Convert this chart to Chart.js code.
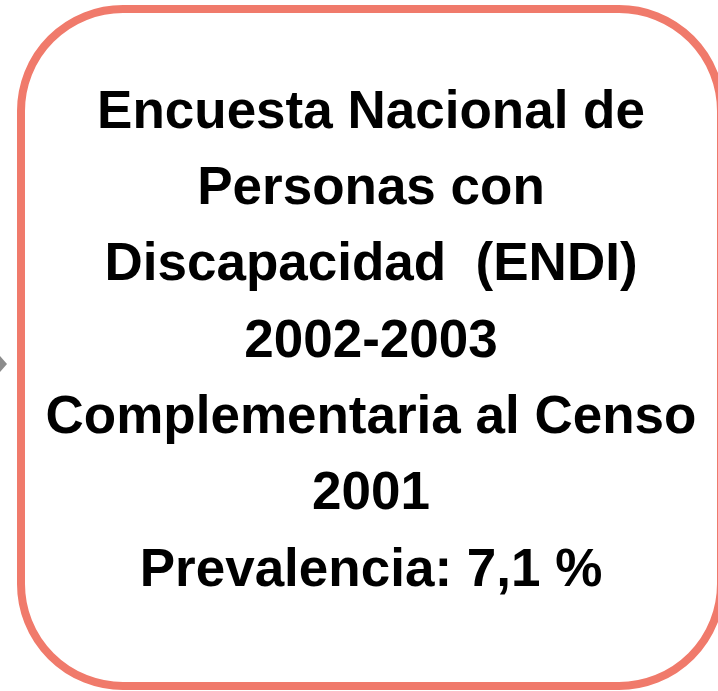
<!DOCTYPE html>
<html>
<head>
<meta charset="utf-8">
<script src="https://cdn.jsdelivr.net/npm/chart.js@4/dist/chart.umd.min.js"></script>
<style>
  html, body { margin: 0; padding: 0; background: #fff; }
  #wrap { width: 718px; height: 691px; position: relative; }
</style>
</head>
<body>
<div id="wrap"><canvas id="c"></canvas></div>
<script>
// Text shown inside the box, one entry per line
const titleLines = [
    'Encuesta Nacional de',
    'Personas con',
    'Discapacidad  (ENDI)',
    '2002-2003',
    'Complementaria al Censo',
    '2001',
    'Prevalencia: 7,1 %'
];
const labels = [];
const values = [];

// draws the rounded frame + the little grey arrow on the left
const framePlugin = {
    id: 'frame',
    beforeDraw: function (chart) {
        const ctx = chart.ctx;
        ctx.save();
        ctx.fillStyle = '#ffffff';
        ctx.fillRect(0, 0, chart.width, chart.height);

        ctx.beginPath();
        ctx.roundRect(21, 9, 700, 677, 102);
        ctx.lineWidth = 8;
        ctx.strokeStyle = '#f07a6b';
        ctx.stroke();

        // arrow head peeking in from the left
        ctx.beginPath();
        ctx.moveTo(0, 356);
        ctx.lineTo(7, 364);
        ctx.lineTo(0, 372);
        ctx.closePath();
        ctx.fillStyle = '#8c8c8c';
        ctx.fill();
        ctx.restore();
    }
};

new Chart(document.getElementById('c'), {
    type: 'bar',
    data: { labels: labels, datasets: [{ data: values }] },
    options: {
        responsive: true,
        maintainAspectRatio: false,
        animation: false,
        events: [],
        layout: { padding: { left: 24, right: 0, top: 0, bottom: 0 } },
        scales: { x: { display: false }, y: { display: false } },
        plugins: {
            legend: { display: false },
            tooltip: { enabled: false },
            title: {
                display: true,
                text: titleLines,
                color: '#000000',
                font: { family: '"Liberation Sans", Arial, sans-serif', size: 53, weight: 'bold', lineHeight: 1.44 },
                padding: { top: 75, bottom: 0 }
            }
        }
    },
    plugins: [framePlugin]
});
</script>
</body>
</html>
